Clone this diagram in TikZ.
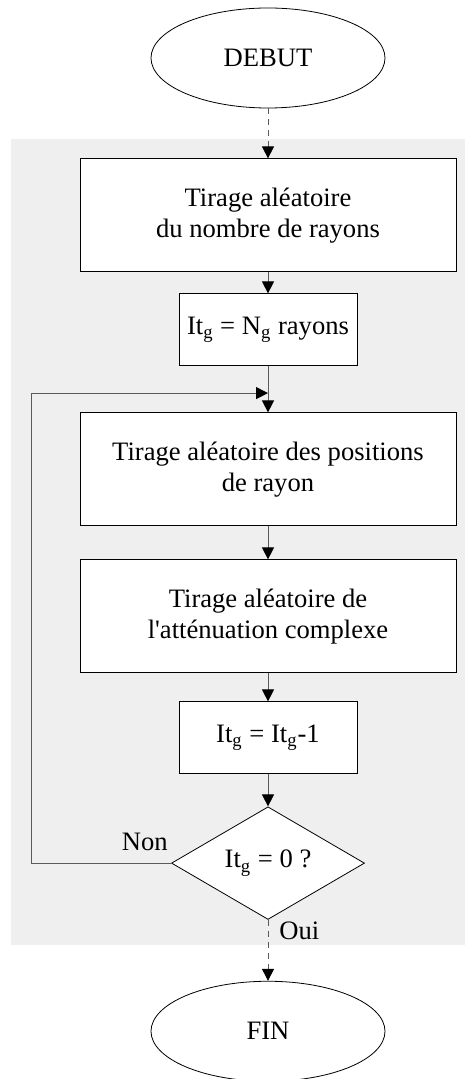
\documentclass[tikz,border=0pt]{standalone}
\usepackage{fontspec}
\setmainfont{Liberation Serif}
\usepackage{tikz}
\usetikzlibrary{arrows.meta,positioning,shapes.geometric,calc}
\definecolor{fondgris}{RGB}{239,239,239}
\definecolor{trait}{RGB}{90,90,90}

\begin{document}
\begin{tikzpicture}[
      x=0.5pt, y=-0.5pt,
      every node/.style={font=\fontsize{13.3}{15.5}\selectfont},
      grande/.style={draw, fill=white, line width=0.5pt, align=center,
        minimum width=188pt, minimum height=56.5pt, inner sep=0pt},
      petite/.style={draw, fill=white, line width=0.5pt, align=center,
        minimum width=89pt, minimum height=36pt, inner sep=0pt},
      terminal/.style={draw, ellipse, line width=0.4pt, fill=white,
        minimum width=117pt, minimum height=50pt, inner sep=0pt},
      decision/.style={draw, diamond, fill=white, line width=0.4pt,
        minimum width=96.5pt, minimum height=54pt, inner sep=0pt},
      etiq/.style={inner sep=1pt},
      fleche/.style={draw=trait, line width=0.5pt,
        -{Triangle[length=6pt,width=6pt,color=black]}},
      pointille/.style={fleche, dash pattern=on 3pt off 2.5pt}
    ]
    \useasboundingbox (0,0) rectangle (465,1079);
    \fill[fondgris] (11,139) rectangle (465,945);

    % NOEUDS
    \node[terminal] (debut) at (268,58) {DEBUT};
    \node[grande, below=25pt of debut] (tirage) {Tirage aléatoire\\du nombre de rayons};
    \node[petite, below=10.5pt of tirage] (iter) {It\textsubscript{g} = N\textsubscript{g} rayons};
    \node[grande, below=23pt of iter] (positions) {Tirage aléatoire des positions\\de rayon};
    \node[grande, below=16.5pt of positions] (attenuation) {Tirage aléatoire de\\l\textquotesingle atténuation complexe};
    \node[petite, below=14pt of attenuation] (decr) {It\textsubscript{g} = It\textsubscript{g}-1};
    \node[decision, below=16pt of decr] (test) {It\textsubscript{g} = 0 ?};
    \node[terminal, below=30.5pt of test] (fin) {FIN};

    \node[etiq, above left=5pt and 0.5pt of test.west] (non) {Non};
    \node[etiq, below right=0pt and 4.5pt of test.south] (oui) {Oui};

    \coordinate (jonction) at ($(iter.south)!0.58!(positions.north)$);

    % FLECHES
    \draw[pointille] (debut) -- (tirage);
    \draw[fleche] (tirage) -- (iter);
    \draw[fleche] (iter) -- (positions);
    \draw[fleche] (positions) -- (attenuation);
    \draw[fleche] (attenuation) -- (decr);
    \draw[fleche] (decr) -- (test);
    \draw[fleche] (test.west) -- ++(-140,0) |- (jonction);
    \draw[pointille] (test) -- (fin);
  \end{tikzpicture}
\end{document}
